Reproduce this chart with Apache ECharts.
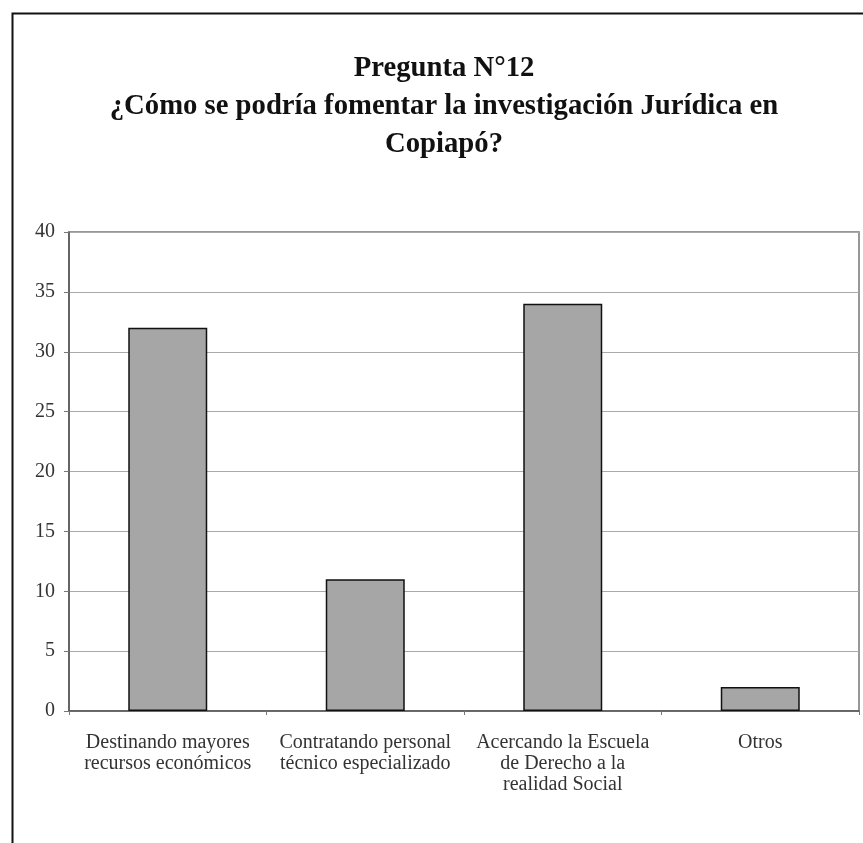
<!DOCTYPE html>
<html>
<head>
<meta charset="utf-8">
<script src="https://cdn.jsdelivr.net/npm/echarts@6/dist/echarts.min.js"></script>
<style>
  html, body { margin: 0; padding: 0; background: #fff; }
  #chart { width: 863px; height: 843px; }
</style>
</head>
<body>
<div id="chart"></div>
<script>
// Survey answers for question 12
const categories = [
  'Destinando mayores\nrecursos económicos',
  'Contratando personal\ntécnico especializado',
  'Acercando la Escuela\nde Derecho a la\nrealidad Social',
  'Otros'
];
const responses = [32, 11, 34, 2];
const yTicks = { min: 0, max: 40, interval: 5 };

const titleLines = 'Pregunta N°12\n¿Cómo se podría fomentar la investigación Jurídica en\nCopiapó?';
const serif = '"Liberation Serif", "Times New Roman", serif';

const chart = echarts.init(document.getElementById('chart'), null, { renderer: 'canvas' });
chart.setOption({
  animation: false,
  backgroundColor: '#fff',
  title: {
    text: titleLines,
    left: 439,
    textAlign: 'center',
    top: 45,
    textStyle: {
      fontFamily: serif,
      fontWeight: 'bold',
      fontSize: 28.7,
      lineHeight: 38,
      color: '#111'
    }
  },
  graphic: [
    {
      type: 'rect',
      left: 10, top: 11,
      shape: { width: 880, height: 860 },
      style: { fill: 'none', stroke: '#111', lineWidth: 2 },
      silent: true
    }
  ],
  grid: {
    left: 69, right: 4, top: 232, bottom: 132,
    show: true,
    borderColor: '#777',
    borderWidth: 1.5,
    backgroundColor: 'transparent'
  },
  xAxis: {
    type: 'category',
    data: categories,
    axisLine: { show: true, lineStyle: { color: '#555', width: 1.5 } },
    axisTick: { show: true, length: 4, lineStyle: { color: '#777' } },
    axisLabel: {
      fontFamily: serif,
      fontSize: 20,
      lineHeight: 21,
      color: '#333',
      margin: 21,
      interval: 0
    }
  },
  yAxis: {
    type: 'value',
    min: yTicks.min,
    max: yTicks.max,
    interval: yTicks.interval,
    axisLine: { show: true, lineStyle: { color: '#555', width: 1.5 } },
    axisTick: { show: true, length: 5, lineStyle: { color: '#777' } },
    splitLine: { show: true, lineStyle: { color: '#aaa', width: 1 } },
    axisLabel: {
      fontFamily: serif,
      fontSize: 20,
      color: '#333',
      margin: 14
    }
  },
  series: [{
    type: 'bar',
    data: responses,
    barWidth: '40%',
    itemStyle: {
      color: '#a6a6a6',
      borderColor: '#111',
      borderWidth: 1.5
    }
  }]
});
</script>
</body>
</html>
